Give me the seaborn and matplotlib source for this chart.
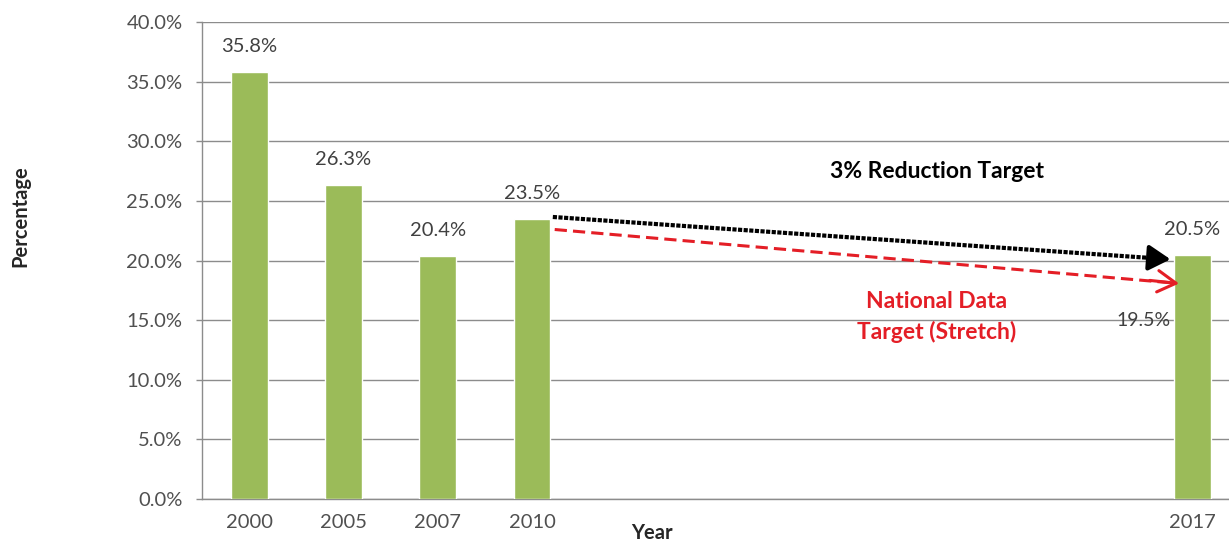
import numpy as np
import pandas as pd
import matplotlib
matplotlib.use("Agg")
import matplotlib.pyplot as plt
import seaborn as sns

# Data
years = ["2000", "2005", "2007", "2010", "2011", "2012", "2013", "2014", "2015", "2016", "2017"]
tick_labels = ["2000", "2005", "2007", "2010", "", "", "", "", "", "", "2017"]
values = [35.8, 26.3, 20.4, 23.5, np.nan, np.nan, np.nan, np.nan, np.nan, np.nan, 20.5]
baseline_value = 23.5
reduction_target = 20.5
stretch_target = 19.5

sns.set_theme(style="white")
plt.rcParams["font.family"] = ["Lato", "DejaVu Sans"]

df = pd.DataFrame({"Year": years, "Percentage": values})

fig = plt.figure(figsize=(12.29, 5.42), dpi=100)
ax = fig.add_axes([202 / 1229, 1 - 499 / 542, 1 - 202 / 1229, (499 - 22) / 542])

green = "#9BBB59"
grid_c = "#8c8c8c"
text_c = "#404040"
red = "#e41e26"

sns.barplot(data=df.dropna(), x="Year", y="Percentage", order=years,
            color=green, saturation=1, width=0.39, ax=ax, zorder=3)

ax.set_ylim(0, 40)
ax.set_xlim(-0.5, 10.39)
ax.set_yticks(np.arange(0, 40.1, 5))
ax.set_yticklabels([f"{v:.1f}%" for v in np.arange(0, 40.1, 5)])
ax.set_xticks(range(len(years)))
ax.set_xticklabels(tick_labels)
ax.yaxis.grid(True, color=grid_c, linewidth=1.0, zorder=0)
ax.set_axisbelow(True)
ax.set_xlabel("")
ax.set_ylabel("")

for s in ["top", "right"]:
    ax.spines[s].set_visible(False)
for s in ["left", "bottom"]:
    ax.spines[s].set_color(grid_c)
    ax.spines[s].set_linewidth(1.0)

ax.tick_params(axis="y", which="both", left=True, length=4, width=1.0,
               color=grid_c, pad=10, labelsize=14.5, labelcolor="#505050")
ax.tick_params(axis="x", which="both", bottom=False, length=0, pad=11,
               labelsize=14.5, labelcolor="#505050")

# Value labels above the bars
for i, v in enumerate(values):
    if not np.isnan(v):
        ax.annotate(f"{v:.1f}%", xy=(i, v), xytext=(0, 20), textcoords="offset pixels",
                    ha="center", va="baseline", fontsize=14.5, color=text_c)

# 3% reduction target: dotted black arrow from the 2010 value toward 2017
bx = [3.22, 9.62]
by = [baseline_value + 0.15, reduction_target - 0.32]
ax.plot(bx, by, color="black", lw=3.0, linestyle=(0, (1, 0.35)),
        solid_capstyle="butt", dash_capstyle="butt", zorder=5)
ax.annotate("", xy=(9.77, reduction_target - 0.4), xytext=(9.55, reduction_target - 0.28),
            arrowprops=dict(arrowstyle="-|>,head_length=0.6,head_width=0.35", color="black",
                            lw=3, mutation_scale=22, shrinkA=0, shrinkB=0), zorder=6)

# Stretch target: dashed red arrow
rx = [3.24, 9.82]
ry = [baseline_value - 0.9, stretch_target - 1.4]
ax.plot(rx, ry, color=red, lw=2.2, linestyle=(0, (4, 2)), dash_capstyle="butt", zorder=5)
ax.annotate("", xy=(9.86, stretch_target - 1.43), xytext=(9.55, stretch_target - 1.17),
            arrowprops=dict(arrowstyle="->,head_length=0.6,head_width=0.35", color=red,
                            lw=2.2, mutation_scale=22, shrinkA=0, shrinkB=0), zorder=6)

ax.text(7.29, 27.45, "3% Reduction Target", ha="center", va="center",
        fontsize=16.5, fontweight="bold", color="black")
ax.text(7.29, 15.25, "National Data\nTarget (Stretch)", ha="center", va="center",
        fontsize=16.5, fontweight="bold", color=red, linespacing=1.5)
ax.text(9.48, 15.0, f"{stretch_target:.1f}%", ha="center", va="center",
        fontsize=14, color=text_c, zorder=4)

fig.text(20 / 1229, 1 - 216 / 542, "Percentage", rotation=90, ha="center", va="center",
         fontsize=14.5, fontweight="bold", color="#262626")
fig.text(652 / 1229, 1 - 533 / 542, "Year", ha="center", va="center",
         fontsize=14.5, fontweight="bold", color="#262626")

fig.savefig("out.png", dpi=100, facecolor="white")
